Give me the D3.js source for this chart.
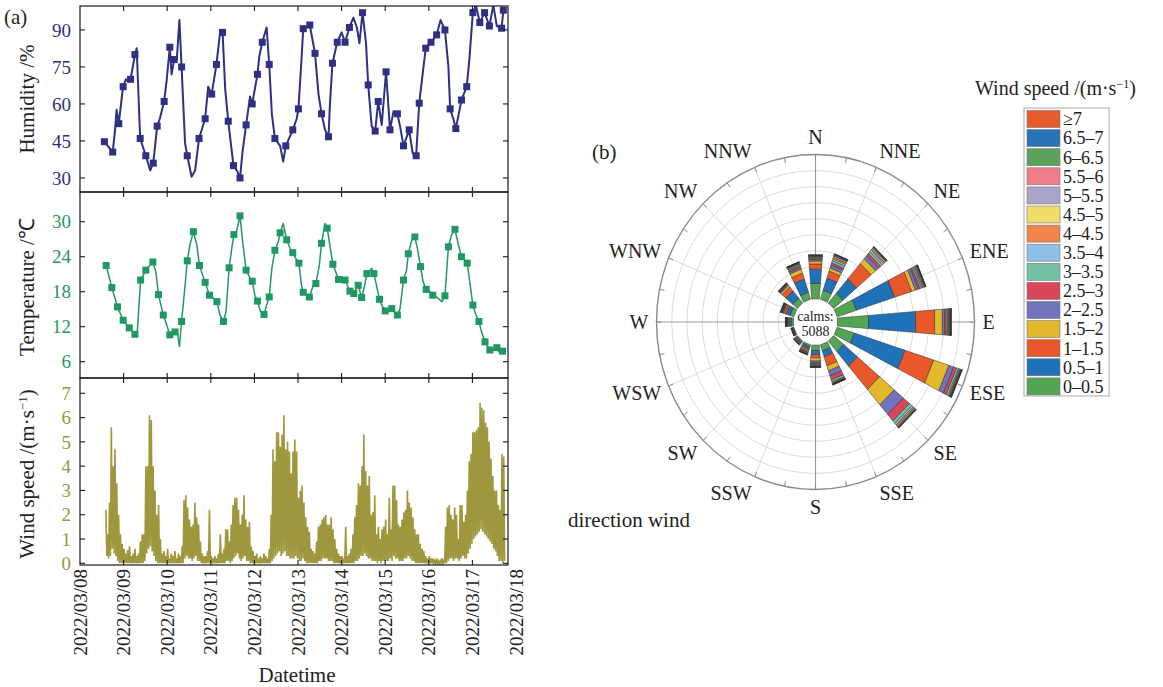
<!DOCTYPE html>
<html>
<head>
<meta charset="utf-8">
<script src="https://cdnjs.cloudflare.com/ajax/libs/d3/7.8.5/d3.min.js"></script>
<style>
  body { margin: 0; background: #fff; }
  svg text { font-family: "Liberation Serif", "Times New Roman", serif; fill: #222; }
</style>
</head>
<body>
<svg id="chart" width="1163" height="687"></svg>
<script>
// ---------- data (a): day offset from 2022/03/08 00:00, value, marker flag ----------
const humidity = [
  [0.56,44.7,1],[0.65,42.7,0],[0.75,40.5,1],[0.80,48.8,0],[0.84,57.6,0],[0.89,52,1],[0.96,63,0],[0.99,67,1],
  [1.05,70,0],[1.11,69,0],[1.16,70,1],[1.26,80,1],[1.30,82.6,0],[1.38,46,1],[1.51,39,1],[1.61,33,0],[1.68,36,1],
  [1.77,51,1],[1.83,54,0],[1.93,61,1],[1.99,70,0],[2.06,83,1],[2.10,72,0],[2.16,78,1],[2.22,78,0],[2.28,94,0],
  [2.33,75,1],[2.41,44,0],[2.46,39,1],[2.56,30.5,0],[2.64,33,0],[2.73,46,1],[2.87,54,1],[2.94,67,0],[3.02,64,1],
  [3.13,76,1],[3.21,88.6,0],[3.27,89,1],[3.33,66,0],[3.40,53,1],[3.52,35,1],[3.61,32.6,0],[3.67,30,1],[3.73,41,0],
  [3.81,51.5,1],[3.90,63,0],[3.95,60,1],[4.07,72,1],[4.11,79,0],[4.18,85,1],[4.28,91,0],[4.34,76,1],[4.40,56,0],
  [4.47,46,1],[4.59,43,0],[4.66,36.6,0],[4.72,43,1],[4.88,49.5,1],[4.97,54,0],[5.01,58,1],[5.08,78,0],[5.12,90.5,1],
  [5.27,92,1],[5.39,80.5,1],[5.47,64,0],[5.54,56,1],[5.62,49.5,0],[5.70,46.7,1],[5.73,59,0],[5.79,76.5,1],[5.90,85,1],
  [6.00,89,0],[6.08,85,1],[6.18,91,1],[6.27,95,0],[6.35,91,0],[6.41,84.6,0],[6.48,97,1],[6.56,84.6,0],[6.61,67.7,1],
  [6.69,51,0],[6.77,49,1],[6.84,61,1],[6.92,51.5,0],[7.02,73,1],[7.11,49.5,1],[7.19,57,0],[7.28,56,1],[7.34,51,0],
  [7.42,43,1],[7.55,49.5,1],[7.63,40,0],[7.71,39,1],[7.78,60.3,1],[7.87,73.8,0],[7.93,82.6,1],[8.05,85,1],[8.18,88,1],
  [8.27,94,0],[8.37,90,1],[8.45,75,0],[8.49,58,1],[8.57,53.5,0],[8.62,50,1],[8.75,61.6,1],[8.87,67,1],[8.93,78,0],
  [9.01,97,1],[9.08,100,0],[9.17,93,1],[9.28,97,1],[9.39,91.6,1],[9.48,100,0],[9.56,91.6,0],[9.67,90.7,1],[9.71,98,1]
];

const temperature = [
  [0.60,22.5,1],[0.73,18.7,1],[0.86,15.4,1],[0.99,13.1,1],[1.13,11.8,1],[1.26,10.7,1],[1.31,10.6,0],[1.39,20,1],
  [1.51,21.7,1],[1.61,22.6,0],[1.67,23.1,1],[1.74,21.4,0],[1.80,17.5,1],[1.91,14,1],[1.99,12.3,0],[2.06,10.6,1],
  [2.18,11.1,1],[2.23,11.1,0],[2.28,8.6,0],[2.33,12.9,1],[2.41,19.1,0],[2.46,23.3,1],[2.52,26,0],[2.60,28.3,1],
  [2.68,26,0],[2.74,22.5,1],[2.87,19.6,1],[2.97,17.4,1],[3.06,16.9,0],[3.14,16.3,1],[3.21,14,0],[3.29,12.9,1],
  [3.35,14.6,0],[3.42,22.1,1],[3.48,25.4,0],[3.53,27.8,1],[3.59,28.3,0],[3.67,31,1],[3.73,26.6,0],[3.81,21.7,1],
  [3.90,20.3,0],[3.95,19.8,1],[4.01,17.4,0],[4.07,16.4,1],[4.14,14.6,0],[4.22,14.1,1],[4.28,15.7,0],[4.34,17.1,1],
  [4.40,22,0],[4.47,25.1,1],[4.55,26.6,0],[4.59,28.1,1],[4.66,29.7,0],[4.74,26.9,1],[4.82,25.4,0],[4.88,24.7,1],
  [4.95,23.7,0],[5.02,22.9,1],[5.08,19.1,0],[5.12,17.9,1],[5.20,17.4,0],[5.26,17.1,1],[5.35,19.1,0],[5.41,19.4,1],
  [5.49,22.6,0],[5.54,26.3,1],[5.62,29.7,0],[5.67,28.9,1],[5.73,26,0],[5.80,22.7,1],[5.89,20.9,0],[5.93,20.1,1],
  [6.00,19.7,0],[6.08,20,1],[6.16,18.6,0],[6.19,18.1,1],[6.28,17.7,1],[6.38,19.1,1],[6.46,17,1],[6.53,19.1,0],
  [6.58,21.1,1],[6.69,22,0],[6.74,21.1,1],[6.80,19.1,0],[6.87,16.7,1],[6.92,15.7,0],[7.00,14.7,1],[7.07,14.6,0],
  [7.15,15.1,1],[7.23,14.3,0],[7.28,14,1],[7.34,15.1,0],[7.42,20,1],[7.49,21.7,0],[7.53,24.5,1],[7.61,26.9,0],
  [7.68,27.4,1],[7.74,25.4,0],[7.81,22.3,1],[7.87,19.7,0],[7.94,18.4,1],[8.03,18,0],[8.09,17.4,1],[8.18,17.1,0],
  [8.30,16.3,0],[8.37,17.3,1],[8.45,25.7,1],[8.52,27.7,0],[8.60,28.7,1],[8.68,26,0],[8.75,24,1],[8.83,23.4,0],
  [8.88,22.9,1],[8.94,19.7,0],[9.01,15.7,1],[9.08,14,0],[9.15,12.9,1],[9.21,11.1,0],[9.29,9.4,1],[9.40,8,1],
  [9.47,8,0],[9.56,8.4,1],[9.63,7.4,0],[9.69,7.8,1]
];

// wind speed, hourly max / min, starting at hour 14 of 03/08
const windStartHour = 14;
const windMax = [
  2.2,1.2,2.5,5.6,4.0,4.7,3.3,2.0,1.2,0.8,0.6,0.4,
  0.55,0.7,0.3,0.4,0.6,0.3,0.4,0.9,1.2,1.2,4.0,4.0,
  6.1,5.9,4.0,3.0,2.0,2.4,1.0,
  0.4,0.5,0.3,0.6,0.2,0.4,0.3,0.5,0.2,0.4,0.3,0.7,
  2.6,2.8,2.3,1.8,1.5,1.6,2.5,1.9,1.6,0.9,0.4,0.3,
  0.3,0.5,2.2,0.3,0.2,0.3,0.2,0.4,1.2,0.4,0.6,1.4,
  1.4,0.9,1.6,2.4,2.7,2.7,2.2,1.6,2.0,2.8,1.8,1.5,
  1.7,0.7,0.5,0.3,0.4,0.2,0.3,0.2,0.4,0.3,0.2,0.6,
  2.0,4.7,4.2,5.4,5.4,4.8,5.3,6.1,4.7,5.0,4.6,3.7,
  4.6,5.1,4.6,2.7,3.0,3.2,2.5,1.9,1.5,1.3,0.6,0.5,
  0.4,0.9,1.5,1.6,1.8,1.9,2.0,1.6,1.6,1.9,1.4,1.0,
  0.6,0.4,0.3,0.3,0.2,1.5,0.3,0.4,0.6,1.2,1.9,2.4,
  3.3,3.2,4.0,5.3,3.8,3.2,3.6,2.0,2.1,2.8,1.2,1.5,
  1.0,1.4,1.5,1.8,1.2,2.7,1.4,3.2,3.2,2.6,1.6,1.5,
  1.8,2.1,2.2,3.0,2.5,2.3,1.9,1.4,1.2,1.2,0.8,0.6,
  0.5,0.3,0.2,0.3,0.2,0.2,0.1,0.2,0.1,0.1,0.2,0.1,
  1.5,2.3,2.4,2.0,1.8,2.3,2.0,1.0,2.4,2.4,1.7,2.0,
  3.0,4.2,4.5,5.4,5.4,5.5,5.6,6.6,6.4,6.3,5.8,5.6,
  5.0,4.3,3.6,3.0,3.0,2.4,2.2,4.5,4.4
];
const windMin = [
  0.3,0.2,0.3,0.6,0.4,0.3,0.1,0,0,0,0,0,
  0,0,0,0,0,0,0,0,0,0.1,0.4,0.6,
  0.7,0.5,0.3,0.1,0,0,0,
  0,0,0,0,0,0,0,0,0,0,0,0,
  0.2,0.3,0.2,0.2,0.1,0.2,0.3,0.1,0.1,0,0,0,
  0,0,0,0,0,0,0,0,0,0,0,0.1,
  0.1,0,0.1,0.2,0.3,0.4,0.2,0.1,0.2,0.3,0.1,0.1,
  0,0,0,0,0,0,0,0,0,0,0,0,
  0.1,0.2,0.3,0.4,0.5,0.3,0.4,0.5,0.3,0.3,0.2,0.2,
  0.2,0.3,0.2,0.1,0.1,0.2,0.1,0,0,0,0,0,
  0,0,0.1,0.1,0.2,0.2,0.2,0.1,0.1,0.1,0,0,
  0,0,0,0,0,0,0,0,0,0,0.1,0.1,
  0.2,0.3,0.3,0.4,0.3,0.2,0.2,0.1,0.1,0.1,0,0.1,
  0,0.1,0.1,0.1,0.1,0.2,0.1,0.3,0.2,0.2,0.1,0.1,
  0.1,0.2,0.2,0.3,0.2,0.1,0.1,0,0,0,0,0,
  0,0,0,0,0,0,0,0,0,0,0,0,
  0,0.1,0.2,0.2,0.1,0.2,0.2,0.1,0.2,0.3,0.2,0.2,
  0.4,0.6,0.8,1.0,1.1,1.2,1.3,1.4,1.3,1.2,1.1,1.0,
  0.9,0.8,0.6,0.5,0.3,0.1,0.1,0,0.1
];

const humTicks = [30, 45, 60, 75, 90];
const tempTicks = [6, 12, 18, 24, 30];
const windTicks = [0, 1, 2, 3, 4, 5, 6, 7];
const dateTicks = ["2022/03/08","2022/03/09","2022/03/10","2022/03/11","2022/03/12","2022/03/13",
                   "2022/03/14","2022/03/15","2022/03/16","2022/03/17","2022/03/18"];

// ---------- data (b): wind rose, frequency (%) per direction and speed bin ----------
const directions = ["N","NNE","NE","ENE","E","ESE","SE","SSE","S","SSW","SW","WSW","W","WNW","NW","NNW"];
const speedBins = ["0\u20130.5","0.5\u20131","1\u20131.5","1.5\u20132","2\u20132.5","2.5\u20133","3\u20133.5","3.5\u20134",
                   "4\u20134.5","4.5\u20135","5\u20135.5","5.5\u20136","6\u20136.5","6.5\u20137","\u22657"];
const roseFreq = [
  [0.97,0.88,0.33,0.18,0.09,0.07,0.06,0.05,0.03,0.02,0.02,0.01,0.01,0.005,0.005],
  [0.59,0.79,0.46,0.20,0.20,0.13,0.15,0.12,0.10,0.07,0.05,0.04,0.03,0.02,0.01],
  [0.79,1.18,1.25,0.39,0.25,0.18,0.15,0.12,0.09,0.07,0.05,0.03,0.02,0.02,0.01],
  [1.32,2.63,1.18,0.26,0.20,0.12,0.10,0.08,0.06,0.05,0.04,0.03,0.02,0.01,0.01],
  [2.04,3.09,1.25,0.51,0.15,0.11,0.08,0.06,0.05,0.04,0.03,0.02,0.02,0.01,0.02],
  [1.18,3.49,1.97,1.05,0.33,0.20,0.13,0.07,0.05,0.04,0.03,0.02,0.02,0.01,0.02],
  [0.86,1.18,1.91,1.25,0.79,0.53,0.20,0.12,0.08,0.06,0.04,0.03,0.02,0.02,0.02],
  [0.39,0.39,0.59,0.33,0.33,0.26,0.13,0.06,0.04,0.03,0.02,0.02,0.01,0.01,0.01],
  [0.33,0.26,0.20,0.20,0.13,0.08,0.06,0.04,0.03,0.02,0.01,0.01,0,0,0.01],
  [0.12,0.14,0.10,0.08,0.07,0.05,0.04,0.02,0.02,0.01,0.01,0,0,0,0],
  [0.08,0.08,0.05,0.04,0.03,0.02,0.01,0.01,0.01,0,0,0,0,0,0],
  [0.05,0.05,0.03,0.02,0.02,0.01,0.01,0.01,0,0,0,0,0,0,0],
  [0.13,0.13,0.07,0.05,0.04,0.03,0.02,0.02,0.01,0.01,0.01,0,0,0,0.01],
  [0.26,0.26,0.13,0.07,0.05,0.04,0.03,0.02,0.02,0.01,0.01,0.01,0,0,0.01],
  [0.39,0.59,0.33,0.13,0.05,0.04,0.03,0.02,0.02,0.01,0.01,0.01,0,0,0.01],
  [0.46,0.86,0.39,0.26,0.12,0.10,0.08,0.05,0.04,0.03,0.02,0.01,0.005,0.005,0.01]
];
const calms = 5088;

const binColors = ["#53a553","#1f72b8","#e8582a","#e4b82c","#7273bd","#d94559","#72c1a2","#8fc1e6",
                   "#f08549","#f1dc6c","#a9a4c9","#f07d89","#5ba35c","#2874b6","#e65a2b"];
const humColor = "#2e3183", tempColor = "#1f9862", windColor = "#9e973d";

// ---------- panel (a) ----------
const svg = d3.select("#chart");
const day0 = Date.UTC(2022, 2, 8);
const toDate = d => new Date(day0 + d * 86400000);
const x = d3.scaleUtc().domain([toDate(0), toDate(10)]).range([80, 516]);
const left = 80, right = 508;

const panels = [
  { id: "hum", top: 6, bottom: 192, domain: [24.3, 99.7], ticks: humTicks, color: humColor },
  { id: "temp", top: 192, bottom: 378, domain: [3.2, 35.1], ticks: tempTicks, color: tempColor },
  { id: "wind", top: 378, bottom: 565, domain: [-0.07, 7.63], ticks: windTicks, color: windColor }
];

panels.forEach(p => {
  p.y = d3.scaleLinear().domain(p.domain).range([p.bottom, p.top]);
  svg.append("clipPath").attr("id", "clip-" + p.id)
    .append("rect").attr("x", left).attr("y", p.top).attr("width", right - left).attr("height", p.bottom - p.top);
});

const [hum, temp, wind] = panels;

// wind speed: each hour's max and min drawn in turn, like the dense raw record
const windSeries = [];
windMax.forEach((v, i) => {
  const h = windStartHour + i;
  windSeries.push({ t: toDate((h + 0.25) / 24), v: v });
  windSeries.push({ t: toDate((h + 0.75) / 24), v: windMin[i] });
});
svg.append("path")
  .datum(windSeries)
  .attr("clip-path", "url(#clip-wind)")
  .attr("fill", "none")
  .attr("stroke", windColor)
  .attr("stroke-width", 1.6)
  .attr("stroke-linejoin", "miter")
  .attr("d", d3.line().x(d => x(d.t)).y(d => wind.y(d.v)));

function drawSeries(data, p, width) {
  const g = svg.append("g").attr("clip-path", `url(#clip-${p.id})`);
  g.append("path")
    .datum(data)
    .attr("fill", "none")
    .attr("stroke", p.color)
    .attr("stroke-width", width)
    .attr("stroke-linejoin", "round")
    .attr("d", d3.line().x(d => x(toDate(d[0]))).y(d => p.y(d[1])));
  g.selectAll("rect")
    .data(data.filter(d => d[2]))
    .join("rect")
    .attr("x", d => x(toDate(d[0])) - 3.5)
    .attr("y", d => p.y(d[1]) - 3.5)
    .attr("width", 7)
    .attr("height", 7)
    .attr("fill", p.color);
}
drawSeries(humidity, hum, 2);
drawSeries(temperature, temp, 1.5);

// frames, ticks, tick labels
panels.forEach(p => {
  svg.append("rect")
    .attr("x", left).attr("y", p.top).attr("width", right - left).attr("height", p.bottom - p.top)
    .attr("fill", "none").attr("stroke", "#1a1a1a").attr("stroke-width", 1.2);
  d3.range(1, 11).map(toDate).filter(d => x(d) < right).forEach(d => {
    const xx = x(d);
    svg.append("line").attr("x1", xx).attr("x2", xx).attr("y1", p.bottom).attr("y2", p.bottom - 5)
      .attr("stroke", "#1a1a1a").attr("stroke-width", 1.1);
    svg.append("line").attr("x1", xx).attr("x2", xx).attr("y1", p.top).attr("y2", p.top + 5)
      .attr("stroke", "#1a1a1a").attr("stroke-width", 1.1);
  });
  p.ticks.forEach(v => {
    const yy = p.y(v);
    svg.append("line").attr("x1", left).attr("x2", left + 5).attr("y1", yy).attr("y2", yy)
      .attr("stroke", "#1a1a1a").attr("stroke-width", 1.1);
    svg.append("line").attr("x1", right).attr("x2", right - 5).attr("y1", yy).attr("y2", yy)
      .attr("stroke", "#1a1a1a").attr("stroke-width", 1.1);
    svg.append("text").attr("x", 71).attr("y", yy).attr("dy", "0.35em")
      .attr("text-anchor", "end").style("font-size", "19px").style("fill", p.color).text(v);
  });
});

// date labels
dateTicks.forEach((lab, i) => {
  const xx = x(toDate(i));
  svg.append("text")
    .attr("transform", `translate(${xx},569) rotate(-90)`)
    .attr("dy", "0.35em").attr("text-anchor", "end")
    .style("font-size", "19px").text(lab);
});
svg.append("text").attr("x", 297).attr("y", 682).attr("text-anchor", "middle")
  .style("font-size", "21px").text("Datetime");

// axis titles
svg.append("text").attr("transform", "translate(27,99) rotate(-90)").attr("dy", "0.35em")
  .attr("text-anchor", "middle").style("font-size", "21px").text("Humidity /%");
svg.append("text").attr("transform", "translate(27,287) rotate(-90)").attr("dy", "0.35em")
  .attr("text-anchor", "middle").style("font-size", "21px").text("Temperature /\u2103");
const wt = svg.append("text").attr("transform", "translate(27,474) rotate(-90)").attr("dy", "0.35em")
  .attr("text-anchor", "middle").style("font-size", "21px");
wt.append("tspan").text("Wind speed /(m\u00b7s");
wt.append("tspan").attr("dy", -7).style("font-size", "13px").text("\u22121");
wt.append("tspan").attr("dy", 7).text(")");

svg.append("text").attr("x", 4).attr("y", 24).style("font-size", "21px").text("(a)");

// ---------- panel (b): wind rose ----------
const cx = 815.5, cy = 322, sy = 1.053;
const rr = d3.scaleLinear().domain([0, 9]).range([22, 159]);
const rose = svg.append("g").attr("transform", `translate(${cx},${cy}) scale(1,${sy})`);

rose.selectAll(".ring").data(d3.range(0, 9)).join("circle")
  .attr("r", d => rr(d)).attr("fill", "none").attr("stroke", "#d6d6d6")
  .attr("stroke-width", 0.9).attr("vector-effect", "non-scaling-stroke");

directions.forEach((name, i) => {
  const a = i * Math.PI / 8;
  rose.append("line")
    .attr("x1", rr(0) * Math.sin(a)).attr("y1", -rr(0) * Math.cos(a))
    .attr("x2", rr(9) * Math.sin(a)).attr("y2", -rr(9) * Math.cos(a))
    .attr("stroke", i % 4 === 0 ? "#9a9a9a" : "#d6d6d6")
    .attr("stroke-width", i % 4 === 0 ? 1.1 : 0.9)
    .attr("vector-effect", "non-scaling-stroke");
});
d3.range(32).forEach(i => {
  const a = i * Math.PI / 16;
  rose.append("line")
    .attr("x1", (rr(9) - 5) * Math.sin(a)).attr("y1", -(rr(9) - 5) * Math.cos(a))
    .attr("x2", rr(9) * Math.sin(a)).attr("y2", -rr(9) * Math.cos(a))
    .attr("stroke", "#888").attr("stroke-width", 1).attr("vector-effect", "non-scaling-stroke");
});
rose.append("circle").attr("r", rr(9)).attr("fill", "none").attr("stroke", "#8a8a8a")
  .attr("stroke-width", 1.4).attr("vector-effect", "non-scaling-stroke");

// stacked wedges
const halfW = r => 2.0 + 0.08 * r;
roseFreq.forEach((row, i) => {
  const a = i * Math.PI / 8;
  const ux = Math.sin(a), uy = -Math.cos(a), px = Math.cos(a), py = Math.sin(a);
  let acc = 0;
  row.forEach((f, j) => {
    const r1 = rr(acc), r2 = rr(acc + f);
    acc += f;
    if (f <= 0) return;
    const h1 = halfW(r1), h2 = halfW(r2);
    const pts = [
      [r1 * ux - h1 * px, r1 * uy - h1 * py],
      [r2 * ux - h2 * px, r2 * uy - h2 * py],
      [r2 * ux + h2 * px, r2 * uy + h2 * py],
      [r1 * ux + h1 * px, r1 * uy + h1 * py]
    ];
    rose.append("polygon")
      .attr("points", pts.map(p => p.join(",")).join(" "))
      .attr("fill", binColors[j])
      .attr("stroke", "#2a2a2a").attr("stroke-width", 0.5)
      .attr("vector-effect", "non-scaling-stroke");
  });
});

rose.append("circle").attr("r", 20).attr("fill", "#fff");
svg.append("text").attr("x", cx).attr("y", cy - 6).attr("dy", "0.35em").attr("text-anchor", "middle")
  .style("font-size", "14px").text("calms:");
svg.append("text").attr("x", cx).attr("y", cy + 9).attr("dy", "0.35em").attr("text-anchor", "middle")
  .style("font-size", "14px").text(calms);

// direction labels
directions.forEach((name, i) => {
  const a = i * Math.PI / 8;
  const s = Math.sin(a);
  svg.append("text")
    .attr("x", cx + 167 * s).attr("y", cy - 185 * Math.cos(a)).attr("dy", "0.35em")
    .attr("text-anchor", Math.abs(s) < 0.01 ? "middle" : (s > 0 ? "start" : "end"))
    .style("font-size", "20px").text(name);
});

svg.append("text").attr("x", 592).attr("y", 159).style("font-size", "21px").text("(b)");
svg.append("text").attr("x", 568).attr("y", 527).style("font-size", "21px").text("direction wind");

// legend
const lt = svg.append("text").attr("x", 975).attr("y", 95).style("font-size", "20px");
lt.append("tspan").text("Wind speed /(m\u00b7s");
lt.append("tspan").attr("dy", -7).style("font-size", "12px").text("\u22121");
lt.append("tspan").attr("dy", 7).text(")");

svg.append("rect").attr("x", 1024).attr("y", 108).attr("width", 85).attr("height", 288)
  .attr("fill", "#fff").attr("stroke", "#aaa").attr("stroke-width", 1);
speedBins.slice().reverse().forEach((lab, k) => {
  const j = speedBins.length - 1 - k;
  const yy = 110.5 + k * 19.1;
  svg.append("rect").attr("x", 1027).attr("y", yy).attr("width", 33).attr("height", 17)
    .attr("fill", binColors[j]).attr("stroke", "#777").attr("stroke-width", 0.6);
  svg.append("text").attr("x", 1063).attr("y", yy + 8.5).attr("dy", "0.35em")
    .style("font-size", "18px").text(lab);
});
</script>
</body>
</html>
